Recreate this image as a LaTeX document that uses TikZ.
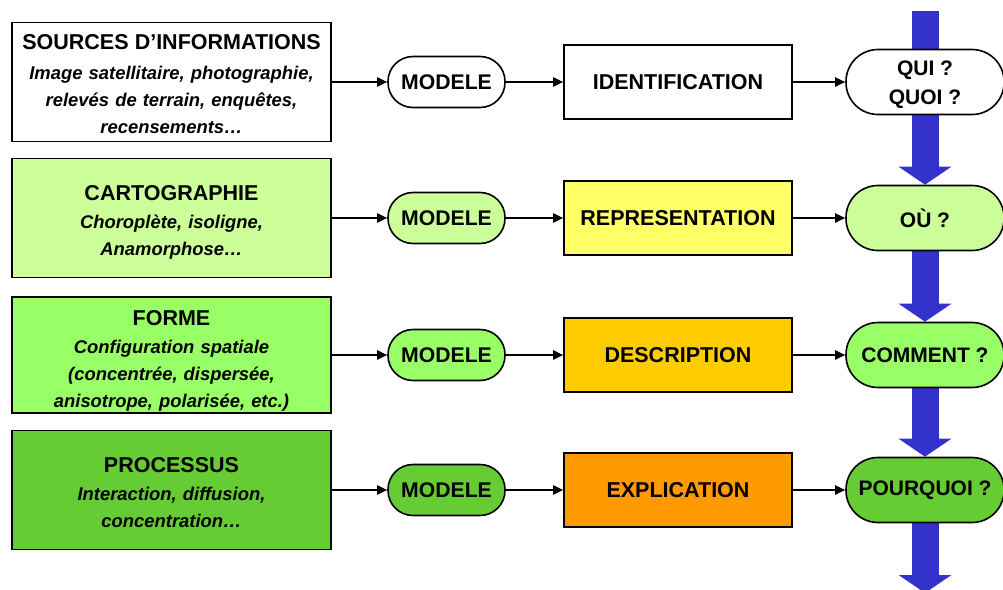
\documentclass[tikz,border=0pt]{standalone}
\usepackage{fontspec}
\setmainfont{Liberation Sans}
\usetikzlibrary{arrows.meta}
\pgfdeclarelayer{bg}
\pgfsetlayers{bg,main}

\definecolor{flowblue}{HTML}{3333CC}
\definecolor{paleGreen}{HTML}{CCFF99}
\definecolor{midGreen}{HTML}{99FF66}
\definecolor{deepGreen}{HTML}{66CC33}
\definecolor{paleYellow}{HTML}{FFFF66}
\definecolor{gold}{HTML}{FFCC00}
\definecolor{orangeFill}{HTML}{FF9900}

% title line of a source box; the strut sets the space above it
\newcommand{\boxtitle}[2][16pt]{{\fontsize{21.5}{27}\selectfont\upshape\rule{0pt}{#1}#2}}

\begin{document}
\begin{tikzpicture}[x=1pt,y=-1pt,
  srcbox/.style={draw, line width=1.8pt, minimum width=319pt, minimum height=119pt,
    align=center, inner sep=0pt, text width=315pt,
    font=\fontsize{18.4}{27}\selectfont\bfseries\itshape},
  model/.style={draw, line width=1.6pt, rounded corners=25pt, minimum width=117pt,
    minimum height=51pt, inner sep=0pt, font=\fontsize{21.2}{24}\selectfont\bfseries},
  stage/.style={draw, line width=1.6pt, minimum width=228pt, minimum height=74pt,
    inner sep=0pt, font=\fontsize{21.5}{24}\selectfont\bfseries},
  question/.style={draw, line width=1.6pt, rounded corners=32pt, minimum width=158pt,
    minimum height=65pt, inner sep=0pt, align=center,
    font=\fontsize{21}{29}\selectfont\bfseries},
  link/.style={line width=2pt, -{Triangle[length=10pt,width=9pt]}},
  flow/.style={draw=flowblue, fill=flowblue, line width=27pt,
    -{Triangle[length=18pt,width=52pt]}}]

\useasboundingbox (0,0) rectangle (1003,589);

% source boxes
\node[srcbox] (src1) at (171.5,82) {\boxtitle[20pt]{SOURCES D’INFORMATIONS}\\[3pt]
  Image satellitaire, photographie,\\ relevés de terrain, enquêtes,\\ recensements…};
\node[srcbox, fill=paleGreen] (src2) at (171.5,218) {\boxtitle[23pt]{CARTOGRAPHIE}\\[1pt]
  Choroplète, isoligne,\\ Anamorphose…};
\node[srcbox, fill=midGreen, minimum height=116pt] (src3) at (171.5,355) {\boxtitle[26pt]{FORME}\\[1pt]
  Configuration spatiale\\ (concentrée, dispersée,\\ anisotrope, polarisée, etc.)};
\node[srcbox, fill=deepGreen] (src4) at (171.5,490) {\boxtitle[20pt]{PROCESSUS}\\[1pt]
  Interaction, diffusion,\\ concentration…};

% model nodes
\node[model] (m1) at (446.5,82) {MODELE};
\node[model, fill=paleGreen] (m2) at (446.5,218) {MODELE};
\node[model, fill=midGreen] (m3) at (446.5,355) {MODELE};
\node[model, fill=deepGreen] (m4) at (446.5,490) {MODELE};

% analysis stages
\node[stage] (s1) at (678,82) {IDENTIFICATION};
\node[stage, fill=paleYellow] (s2) at (678,218) {REPRESENTATION};
\node[stage, fill=gold] (s3) at (678,355) {DESCRIPTION};
\node[stage, fill=orangeFill] (s4) at (678,490) {EXPLICATION};

% questions
\node[question, fill=white] (q1) at (925,82) {\rule{0pt}{21pt}QUI ?\\QUOI ?};
\node[question, fill=paleGreen] (q2) at (925,218) {OÙ ?};
\node[question, fill=midGreen] (q3) at (925,355) {COMMENT ?};
\node[question, fill=deepGreen] (q4) at (925,490) {POURQUOI ?};

% horizontal connectors
\foreach \i in {1,2,3,4}{
  \draw[link] (src\i.east) -- (m\i.west);
  \draw[link] (m\i.east) -- (s\i.west);
  \draw[link] (s\i.east) -- (q\i.west);
}

% vertical flow behind the question nodes
\coordinate (flowtop) at (925,11);
\coordinate (flowend) at (925,593);
\begin{pgfonlayer}{bg}
  \draw[flow] (flowtop) -- (q2.north);
  \draw[flow] (q2.center) -- (q3.north);
  \draw[flow] (q3.center) -- (q4.north);
  \draw[flow] (q4.center) -- (flowend);
\end{pgfonlayer}
\end{tikzpicture}
\end{document}
